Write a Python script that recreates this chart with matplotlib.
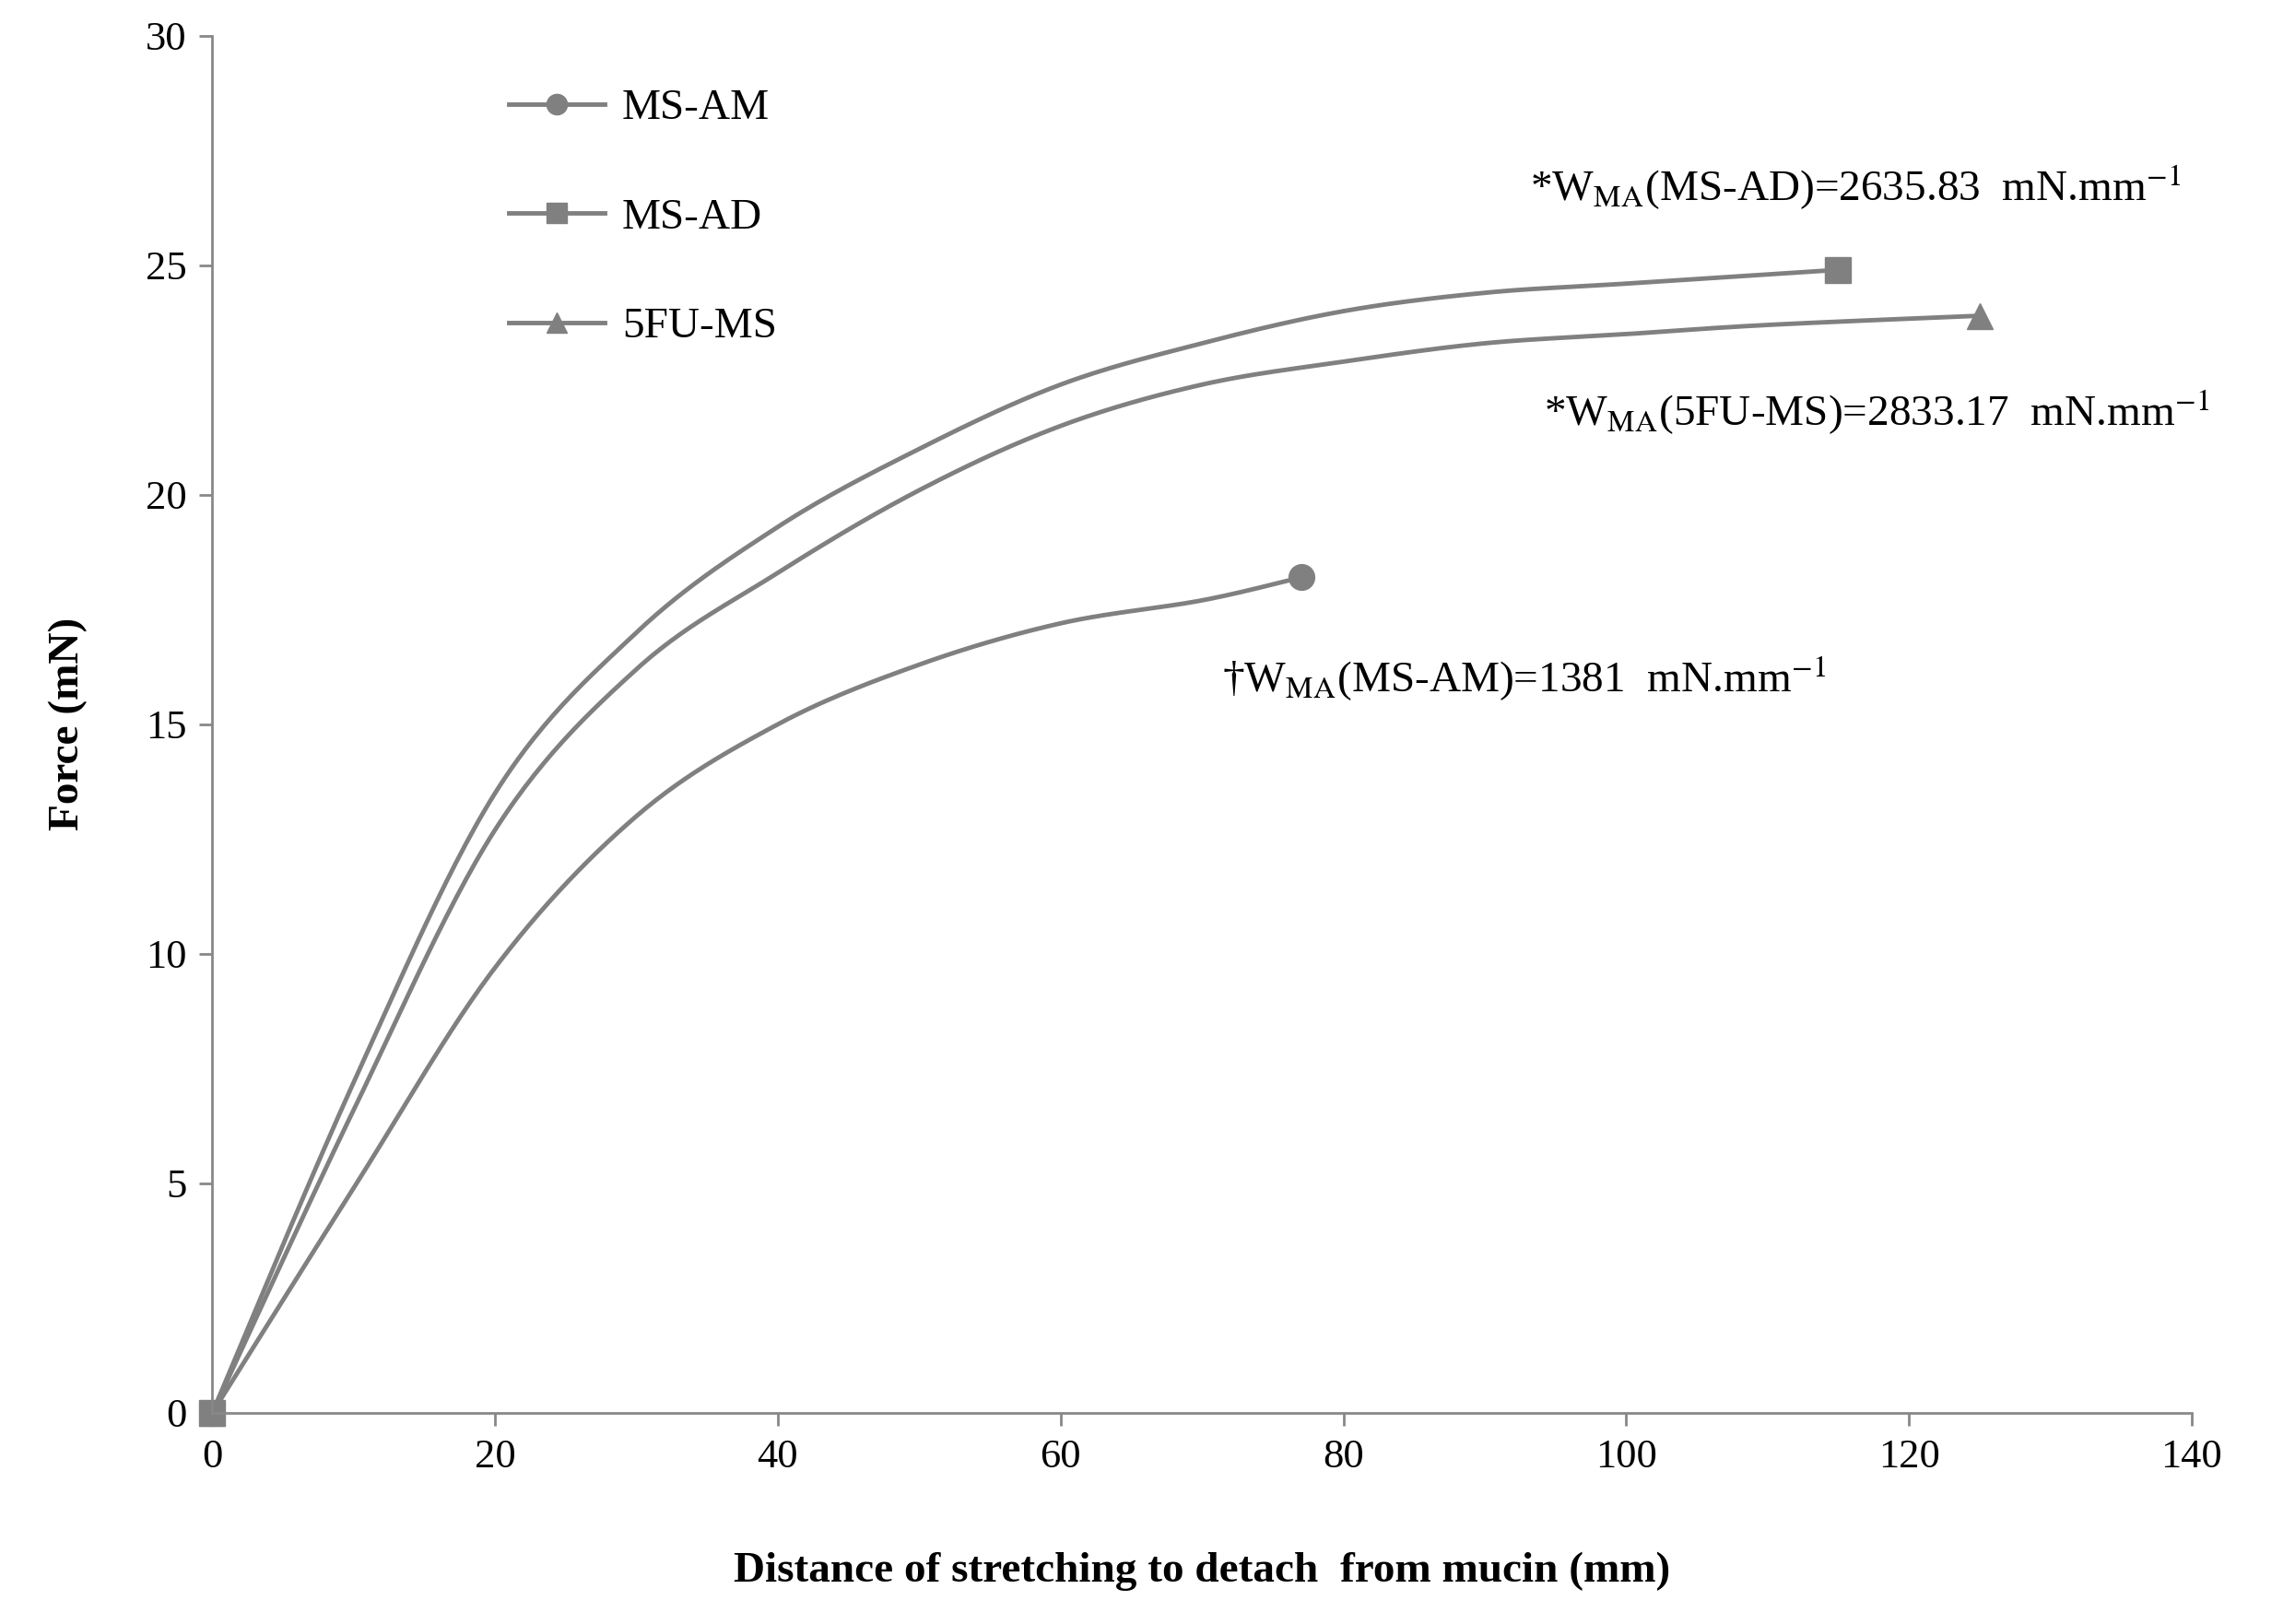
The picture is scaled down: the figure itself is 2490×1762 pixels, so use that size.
import numpy as np
import matplotlib.pyplot as plt

plt.rcParams['font.family'] = ['Liberation Serif', 'DejaVu Serif']
plt.rcParams['mathtext.fontset'] = 'stix'

# values (smoothed curves, markers only at ends)
am_x = [0, 10, 20, 30, 40, 50, 60, 70, 77]
am_y = [0, 4.9, 9.7, 13.0, 15.0, 16.3, 17.2, 17.7, 18.2]
ad_x = [0, 10, 20, 30, 40, 50, 60, 70, 80, 90, 100, 115]
ad_y = [0, 7.2, 13.5, 17.0, 19.3, 21.0, 22.4, 23.3, 24.0, 24.4, 24.6, 24.9]
fu_x = [0, 10, 20, 30, 40, 50, 60, 70, 80, 90, 100, 110, 125]
fu_y = [0, 6.6, 12.7, 16.2, 18.3, 20.1, 21.5, 22.4, 22.9, 23.3, 23.5, 23.7, 23.9]


def smooth(xs, ys, n=30):
    # Catmull-Rom through the points, like a spreadsheet "smoothed line"
    p = np.column_stack([xs, ys]).astype(float)
    p = np.vstack([p[0], p, p[-1]])
    out = []
    t = np.linspace(0, 1, n)[:, None]
    for i in range(1, len(p) - 2):
        p0, p1, p2, p3 = p[i - 1], p[i], p[i + 1], p[i + 2]
        seg = 0.5 * (2 * p1 + (-p0 + p2) * t + (2 * p0 - 5 * p1 + 4 * p2 - p3) * t ** 2
                     + (-p0 + 3 * p1 - 3 * p2 + p3) * t ** 3)
        out.append(seg)
    out = np.vstack(out)
    return out[:, 0], out[:, 1]


color = '#808080'
fig = plt.figure(figsize=(24.9, 17.62), dpi=100)
ax = fig.add_axes([0.0925, 0.13, 0.8625, 0.848])

series = [(am_x, am_y, 'o', 'MS-AM'), (ad_x, ad_y, 's', 'MS-AD'), (fu_x, fu_y, '^', '5FU-MS')]
for xs, ys, m, lab in series:
    sx, sy = smooth(xs, ys)
    ax.plot(sx, sy, color=color, lw=3.5, clip_on=False)
    ax.plot([xs[0], xs[-1]], [ys[0], ys[-1]], ls='none', color=color, marker=m,
            markersize=20, clip_on=False)
    ax.plot([], [], color=color, lw=3.5, marker=m, markersize=16, label=lab)

ax.set_xlim(0, 140)
ax.set_ylim(0, 30)
ax.set_xticks(range(0, 141, 20))
ax.set_yticks(range(0, 31, 5))
for s in ['top', 'right']:
    ax.spines[s].set_visible(False)
for s in ['left', 'bottom']:
    ax.spines[s].set_color('#888888')
    ax.spines[s].set_linewidth(2)
ax.tick_params(labelsize=32, length=10, width=2, color='#888888', pad=10)
ax.set_xlabel('Distance of stretching to detach  from mucin (mm)', fontsize=34,
              fontweight='bold', labelpad=60)
ax.set_ylabel('Force (mN)', fontsize=34, fontweight='bold', labelpad=45)

fs = 34
ax.text(93.2, 26.7, r'*W$_{\rm MA}$(MS-AD)=2635.83  mN.mm$^{-1}$', fontsize=fs, va='center', clip_on=False)
ax.text(94.2, 21.8, r'*W$_{\rm MA}$(5FU-MS)=2833.17  mN.mm$^{-1}$', fontsize=fs, va='center', clip_on=False)
ax.text(71.4, 16.0, r'†W$_{\rm MA}$(MS-AM)=1381  mN.mm$^{-1}$', fontsize=fs, va='center', clip_on=False)

leg = ax.legend(loc='upper left', bbox_to_anchor=(0.13, 0.99), frameon=False,
                fontsize=34, labelspacing=1.6, handlelength=2.2, handletextpad=0.4)

fig.savefig('out.png', dpi=100)
